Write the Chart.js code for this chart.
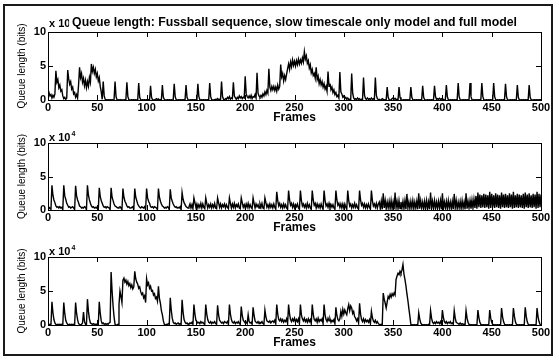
<!DOCTYPE html>
<html>
<head>
<meta charset="utf-8">
<script src="https://cdn.jsdelivr.net/npm/chart.js@4.4.0/dist/chart.umd.min.js"></script>
<style>
  html, body { margin: 0; padding: 0; background: #fff; }
  #fig { position: relative; width: 555px; height: 357px; overflow: hidden; }
  #fig canvas { position: absolute; left: 0; top: 0; }
  #frame { position: absolute; left: 3px; top: 4px; width: 546px; height: 348px; border: 2px solid #1a1a1a; }
</style>
</head>
<body>
<div id="fig">
  <div id="frame"></div>
  <canvas id="c1" width="555" height="357"></canvas>
  <canvas id="c2" width="555" height="357"></canvas>
  <canvas id="c3" width="555" height="357"></canvas>
</div>
<script>
const frames = Array.from({length: 501}, (_, i) => i);
const frameTicks = [0, 50, 100, 150, 200, 250, 300, 350, 400, 450, 500];
const queueTicks = [0, 5, 10];
const titleText = 'Queue length: Fussball sequence, slow timescale only model and full model';

// queue length in units of 10^4 bits, one row per 12 frames
const queueTrace = [
  0.9,1.1,0.6,0.8,0.3,0.7,0.4,0.9,4.3,2.6,3.0,1.8,
  2.2,1.3,1.5,0.6,0.2,0.4,0.1,0.3,4.4,3.1,2.3,2.7,
  1.6,1.9,0.9,1.1,0.4,0.8,0.3,2.2,4.8,3.3,3.9,2.6,
  3.2,2.1,2.9,1.8,2.7,2.0,3.3,2.6,5.3,4.2,4.8,3.9,
  4.5,3.4,3.9,2.8,3.3,2.0,1.2,0.1,2.7,0.6,0.1,0.05,
  0,0.05,0,0.03,0,0.05,0,0.05,2.7,0.5,0.05,0,
  0.03,0,0.05,0,0.02,0,0.04,0.05,2.6,0.5,0.05,0,
  0,0.04,0,0.05,0,0.03,0,0.05,2.5,0.4,0.05,0,
  0.05,0,0.03,0,0.05,0,0.04,0.05,2.1,0.4,0.05,0,
  0.04,0.1,0.2,0.05,0.15,0,0.05,0.05,2.2,0.4,0.1,0,
  0,0.05,0,0.04,0,0.05,0,0.05,2.4,0.5,0.05,0,
  0.03,0,0.05,0,0.04,0,0.05,0.05,2.2,0.4,0.05,0,
  0,0.05,0,0.03,0,0.05,0,0.05,2.4,0.5,0.05,0,
  0.05,0,0.04,0,0.05,0,0.03,0.05,2.5,0.5,0.05,0,
  0,0.05,0.1,0.04,0.2,0.05,0.1,0.05,2.7,0.5,0.1,0.05,
  0.2,0.1,0.4,0.2,0.5,0.1,0.3,0.2,2.6,0.6,0.3,0.1,
  0.4,0.2,0.6,0.3,0.5,0.2,0.4,0.3,3.5,0.9,0.5,0.3,
  0.6,0.3,0.7,0.2,0.5,0.4,0.8,0.3,4.0,1.0,0.6,0.4,
  0.7,0.4,0.9,0.6,1.2,0.8,1.4,1.0,4.6,1.9,1.4,2.0,
  1.5,2.0,1.4,1.9,1.3,2.2,1.6,2.0,5.2,3.4,3.9,2.8,
  3.6,3.0,3.8,4.6,5.3,4.5,5.6,4.9,5.9,5.1,5.7,5.0,
  5.8,5.2,6.0,5.3,5.9,5.4,6.2,5.6,7.1,6.0,6.5,5.4,
  5.8,4.7,5.2,4.0,4.5,3.6,3.9,3.2,4.8,3.0,3.5,2.4,
  3.0,2.2,2.7,1.9,2.4,1.6,2.0,1.3,4.2,2.0,2.4,1.5,
  1.9,1.1,1.5,0.8,1.1,0.5,0.7,0.3,4.1,1.2,0.9,0.4,
  0.6,0.2,0.4,0.1,0.3,0.05,0.1,0.05,3.9,1.0,0.3,0.1,
  0.2,0.05,0.3,0.1,0.2,0,0.1,0.05,3.3,0.7,0.2,0.1,
  0.3,0.1,0.2,0.05,0.3,0.1,0.2,0.05,3.3,0.7,0.2,0.05,
  0.1,0,0.05,0.2,0.1,0,0.05,0.05,1.9,0.4,0.05,0,
  0.05,0.2,0.3,0.1,0.25,0.05,0.1,0.05,1.9,0.4,0.05,0,
  0,0.05,0,0.04,0,0.05,0,0.05,1.9,0.4,0.05,0,
  0.03,0,0.05,0,0.04,0,0.05,0.05,2.1,0.4,0.05,0,
  0,0.05,0,0.03,0,0.05,0,0.05,2.1,0.5,0.1,0.2,
  0.1,0.25,0.1,0.2,0.05,0.1,0,0.05,2.2,0.5,0.05,0,
  0.05,0,0.04,0,0.05,0,0.03,0.05,2.5,0.5,0.05,0,
  0,0.05,0,0.04,0,0.05,0,0.05,2.5,0.5,0.05,0,
  0.03,0,0.05,0,0.04,0,0.05,0.05,2.5,0.5,0.05,0,
  0,0.05,0,0.03,0,0.05,0,0.05,2.5,0.5,0.05,0,
  0.05,0,0.04,0,0.05,0,0.03,0.05,2.4,0.5,0.05,0,
  0,0.05,0,0.04,0,0.05,0,0.05,2.2,0.4,0.05,0,
  0.03,0,0.05,0,0.04,0,0.05,0.05,2.2,0.4,0.05,0,
  0,0.05,0,0.03,0,0.05,0,0.04,0.05
];

const queueSlow = [
  0.2,0.4,0.3,0.1,3.7,2.2,1.5,1.1,0.6,0.4,0.5,0.3,
  0.5,0.3,0.4,0.05,3.7,2.1,1.6,1.0,0.7,0.4,0.5,0.3,
  0.4,0.5,0.3,0.05,3.6,2.1,1.5,1.1,0.6,0.5,0.3,0.4,
  0.3,0.5,0.4,0.05,3.7,2.2,1.5,1.0,0.6,0.4,0.5,0.3,
  0.4,0.3,0.5,0.05,3.3,2.0,1.4,1.0,0.6,0.4,0.5,0.3,
  0.5,0.4,0.3,0.05,3.3,1.9,1.4,0.9,0.6,0.5,0.4,0.3,
  0.4,0.5,0.3,0.05,3.2,1.9,1.3,1.0,0.6,0.4,0.5,0.3,
  0.3,0.4,0.5,0.05,3.2,1.9,1.4,0.9,0.6,0.4,0.3,0.5,
  0.4,0.3,0.5,0.05,3.2,1.8,1.3,1.0,0.5,0.4,0.5,0.3,
  0.5,0.4,0.3,0.05,3.2,1.9,1.3,0.9,0.6,0.5,0.3,0.4,
  0.3,0.5,0.4,0.05,3.1,1.8,1.3,0.9,0.6,0.4,0.5,0.3,
  0.4,0.3,0.5,0.05,2.6,1.6,1.1,0.8,0.5,0.4,0.3,0.5,
  0.9,0.3,0.8,0.2,1.8,1.1,0.4,0.9,0.3,0.8,0.4,1.0,
  0.3,0.9,0.4,0.2,1.8,1.0,0.3,0.8,0.4,0.9,0.3,0.8,
  0.4,1.0,0.3,0.2,1.8,1.1,0.4,0.9,0.3,0.8,0.5,0.9,
  0.3,0.8,0.4,0.2,1.8,1.0,0.3,0.9,0.4,1.0,0.3,0.8,
  0.5,0.9,0.3,0.2,1.8,1.1,0.4,0.8,0.3,0.9,0.4,1.0,
  0.3,0.8,0.4,0.2,1.8,1.0,0.3,0.9,0.5,0.8,0.3,0.9,
  0.4,1.0,0.3,0.2,1.8,1.1,0.4,0.8,0.3,0.9,0.4,0.8,
  0.3,0.9,0.4,0.1,2.7,1.4,0.6,1.0,0.4,0.8,0.3,0.9,
  0.4,0.8,0.3,0.1,2.9,1.5,0.7,1.0,0.4,0.9,0.3,0.8,
  0.5,0.9,0.3,0.1,2.9,1.4,0.6,0.9,0.4,0.8,0.3,1.0,
  0.4,0.8,0.3,0.1,2.9,1.5,0.7,1.0,0.3,0.9,0.4,0.8,
  0.3,0.9,0.4,0.1,2.9,1.4,0.6,0.9,0.4,1.0,0.3,0.8,
  0.4,0.8,0.3,0.1,2.9,1.5,0.7,1.0,0.4,0.9,0.3,0.9,
  0.3,0.9,0.4,0.1,2.9,1.4,0.6,0.9,0.3,0.8,0.4,1.0,
  0.4,0.8,0.3,0.1,2.9,1.5,0.7,1.0,0.4,0.9,0.3,0.8,
  0.3,0.9,0.4,0.1,2.9,1.4,0.6,0.9,0.4,1.0,0.3,0.9,
  1.2,0.2,1.3,0.1,2.5,0.3,1.4,0.2,1.2,0.3,1.3,0.2,
  1.4,0.2,1.2,0.1,2.6,0.3,1.3,0.2,1.4,0.2,1.2,0.3,
  1.3,0.2,1.4,0.1,2.4,0.3,1.2,0.2,1.3,0.3,1.4,0.2,
  1.2,0.3,1.3,0.1,2.5,0.2,1.4,0.3,1.2,0.2,1.3,0.2,
  1.4,0.2,1.2,0.1,2.6,0.3,1.3,0.2,1.4,0.3,1.2,0.2,
  1.3,0.3,1.4,0.1,2.5,0.2,1.2,0.3,1.3,0.2,1.4,0.3,
  1.2,0.2,1.3,0.1,2.4,0.3,1.4,0.2,1.2,0.3,1.3,0.2,
  1.4,0.3,1.2,0.1,2.5,0.2,1.3,0.3,1.4,0.2,1.5,0.3,
  1.6,0.3,2.1,0.2,2.6,0.4,2.3,0.3,2.2,0.4,2.4,0.3,
  2.3,0.4,2.2,0.2,2.7,0.3,2.4,0.4,2.2,0.3,2.5,0.4,
  2.3,0.3,2.2,0.2,2.6,0.4,2.3,0.3,2.4,0.4,2.2,0.3,
  2.5,0.4,2.3,0.2,2.7,0.3,2.2,0.4,2.4,0.3,2.3,0.4,
  2.2,0.3,2.4,0.2,2.6,0.4,2.3,0.3,2.5,0.4,2.2,0.3,
  2.4,0.4,2.3,0.2,2.7,0.3,2.4,0.4,2.3
];

const queueFull = [
  0.1,0.05,0.1,0.05,3.4,1.8,0.8,0.3,0.1,0.05,0.1,0.05,
  0.1,0.05,0.1,0.05,3.3,1.7,0.7,0.3,0.1,0.05,0.1,0.05,
  0.1,0.05,0.1,0.05,3.3,1.7,0.8,0.2,0.1,0.05,0.1,0.3,
  1.9,0.5,0.1,0.05,3.8,2.0,0.9,0.3,0.2,0.1,0.2,0.1,
  0.1,0.05,0.2,0.1,3.4,1.7,0.6,0.2,0.3,0.1,0.2,0.1,
  0.2,0.1,0.3,0.4,7.8,5.0,2.8,1.2,0.1,0,0,0.1,
  3.0,5.0,4.2,3.3,6.6,6.9,6.3,6.6,6.0,6.4,5.8,6.1,
  5.5,5.9,5.3,5.6,7.9,6.8,6.3,6.0,5.4,5.6,4.9,4.5,
  4.7,4.0,4.3,3.3,6.8,5.9,6.2,5.4,5.7,5.0,5.1,4.4,
  4.6,3.9,4.1,3.5,5.7,3.9,3.2,2.1,1.5,0.6,0.1,0,
  0.1,0.05,0.2,0.1,4.0,2.2,1.0,0.4,0.2,0.3,0.1,0.2,
  0.3,0.1,0.2,0.1,3.7,1.9,0.8,0.4,0.2,0.3,0.1,0.2,
  0.3,0.2,0.4,0.1,3.0,1.6,0.7,0.5,0.3,0.4,0.2,0.5,
  0.3,0.4,0.2,0.1,3.0,1.6,0.8,0.4,0.3,0.5,0.2,0.4,
  0.3,0.5,0.2,0.1,2.9,1.5,0.7,0.5,0.3,0.4,0.2,0.5,
  0.4,0.3,0.5,0.1,3.0,1.6,0.8,0.4,0.3,0.5,0.2,0.4,
  0.3,0.5,0.2,0.1,2.7,1.4,0.7,0.5,0.3,0.4,0.2,1.5,
  0.5,0.3,0.4,0.1,2.6,1.4,0.6,0.4,0.3,0.5,0.2,0.4,
  0.3,0.5,0.2,0.1,2.2,1.2,0.6,0.5,0.4,0.6,0.3,0.5,
  0.6,0.4,0.7,0.2,3.0,1.6,0.8,0.6,0.9,0.5,0.8,0.4,
  0.7,0.5,0.9,0.2,3.0,1.6,0.8,0.5,0.9,0.6,1.0,0.4,
  0.8,0.5,0.9,0.2,3.0,1.5,0.9,0.6,1.0,0.5,0.8,0.4,
  0.9,0.5,0.8,0.2,3.0,1.6,0.8,0.6,0.9,0.4,1.0,0.5,
  0.8,0.6,0.9,0.2,3.0,1.5,0.8,0.5,1.0,0.6,0.9,0.4,
  0.7,0.5,0.8,0.2,2.6,1.4,0.8,0.6,0.9,2.0,1.3,2.3,
  1.6,2.2,1.8,1.5,2.4,3.0,2.1,2.8,2.5,1.7,2.0,1.2,
  1.0,0.6,0.9,0.3,3.2,1.6,0.8,0.5,0.9,0.4,0.8,0.5,
  0.7,0.4,0.8,0.2,2.0,1.1,0.6,0.4,0.7,0.3,0.5,0.2,
  0.1,0.05,0.1,0.05,4.7,3.8,3.2,2.5,3.4,4.2,3.9,4.5,
  4.1,4.6,4.3,4.7,4.4,6.7,7.2,7.6,7.4,7.9,7.6,8.1,
  8.9,7.5,6.7,5.8,4.6,3.6,2.4,1.3,0.1,0,0.05,0,
  0.05,0,0.05,0,1.8,0.9,0.3,0.1,0.05,0,0.05,0,
  0.05,0,0.1,0.05,2.1,1.0,0.4,0.2,0.4,0.2,0.5,0.3,
  0.4,0.2,0.5,0.1,2.2,1.1,0.5,0.3,0.5,0.2,0.4,0.3,
  0.5,0.2,0.3,0.1,2.1,1.0,0.4,0.3,0.2,0.1,0.3,0.1,
  0.2,0.1,0.1,0.05,2.1,1.0,0.4,0.1,0.05,0,0.05,0,
  0.05,0,0.05,0,2.2,1.1,0.4,0.1,0.05,0,0.05,0,
  0.03,0,0.05,0,2.2,1.0,0.4,0.1,0.05,0,0.04,0,
  0.05,0,0.04,0,2.5,1.2,0.5,0.1,0.05,0,0.05,0,
  0.04,0,0.05,0,2.5,1.3,0.5,0.1,0.05,0,0.03,0,
  0.05,0,0.05,0,2.6,1.3,0.5,0.1,0.04,0,0.05,0,
  0.05,0,0.04,0,2.5,1.2,0.5,0.1,0.05
];

const plotLeft = 48;
const plotRight = 541;
const panels = [
  {id: 'c1', values: queueTrace, top: 32, bottom: 100, expY: 27, title: titleText, titleY: 26},
  {id: 'c2', values: queueSlow, top: 143, bottom: 210, expY: 141},
  {id: 'c3', values: queueFull, top: 257, bottom: 325, expY: 255}
];

// matlab style box, inward ticks, exponent label and title
const matlabAxes = {
  id: 'matlabAxes',
  afterDatasetsDraw(chart, args, opts) {
    const {ctx, chartArea: a, scales: {x, y}} = chart;
    ctx.save();
    ctx.strokeStyle = '#000';
    ctx.lineWidth = 1;
    ctx.strokeRect(a.left + 0.5, a.top + 0.5, a.right - a.left, a.bottom - a.top);
    ctx.beginPath();
    frameTicks.forEach(v => {
      const px = Math.round(x.getPixelForValue(v)) + 0.5;
      ctx.moveTo(px, a.bottom); ctx.lineTo(px, a.bottom - 5);
      ctx.moveTo(px, a.top); ctx.lineTo(px, a.top + 5);
    });
    queueTicks.forEach(v => {
      const py = Math.round(y.getPixelForValue(v)) + 0.5;
      ctx.moveTo(a.left, py); ctx.lineTo(a.left + 5, py);
      ctx.moveTo(a.right, py); ctx.lineTo(a.right - 5, py);
    });
    ctx.stroke();

    ctx.fillStyle = '#000';
    ctx.textAlign = 'left';
    ctx.textBaseline = 'alphabetic';
    ctx.font = 'bold 11px "Liberation Sans"';
    ctx.fillText('x 10', a.left + 1, opts.expY);
    const w = ctx.measureText('x 10').width;
    ctx.font = 'bold 7px "Liberation Sans"';
    ctx.fillText('4', a.left + 2 + w, opts.expY - 5);

    if (opts.title) {
      ctx.font = 'bold 12.3px "Liberation Sans"';
      const tw = ctx.measureText(opts.title).width;
      const cx = (a.left + a.right) / 2;
      ctx.fillStyle = '#fff';
      ctx.fillRect(cx - tw / 2 - 3, opts.titleY - 10, tw + 6, 13);
      ctx.fillStyle = '#000';
      ctx.textAlign = 'center';
      ctx.fillText(opts.title, cx, opts.titleY);
    }
    ctx.restore();
  }
};

Chart.defaults.font.family = '"Liberation Sans", Arial, sans-serif';
Chart.defaults.color = '#000';

for (const p of panels) {
  new Chart(document.getElementById(p.id), {
    type: 'line',
    data: {
      datasets: [{
        data: frames.map(f => ({x: f, y: p.values[f]})),
        borderColor: '#000',
        borderWidth: 1.4,
        pointRadius: 0,
        tension: 0,
        fill: false
      }]
    },
    options: {
      responsive: false,
      animation: false,
      events: [],
      layout: {
        padding: {left: 0, right: 555 - plotRight, top: p.top, bottom: 357 - p.bottom - 25}
      },
      plugins: {
        legend: {display: false},
        tooltip: {enabled: false},
        matlabAxes: {expY: p.expY, title: p.title, titleY: p.titleY}
      },
      scales: {
        x: {
          type: 'linear',
          min: 0,
          max: 500,
          afterFit: s => { s.height = 25; },
          afterBuildTicks: s => { s.ticks = frameTicks.map(v => ({value: v})); },
          grid: {display: false, drawTicks: false},
          border: {display: false},
          ticks: {font: {size: 11, weight: 'bold'}, padding: 1, maxRotation: 0, autoSkip: false},
          title: {display: true, text: 'Frames', font: {size: 12, weight: 'bold'}, padding: {top: 0, bottom: 0}}
        },
        y: {
          min: 0,
          max: 10,
          afterFit: s => { s.width = plotLeft; },
          afterBuildTicks: s => { s.ticks = queueTicks.map(v => ({value: v})); },
          grid: {display: false, drawTicks: false},
          border: {display: false},
          ticks: {font: {size: 11, weight: 'bold'}, padding: 2},
          title: {display: true, text: 'Queue length (bits)', font: {size: 10}, padding: {top: 16, bottom: 0}}
        }
      }
    },
    plugins: [matlabAxes]
  });
}
</script>
</body>
</html>
